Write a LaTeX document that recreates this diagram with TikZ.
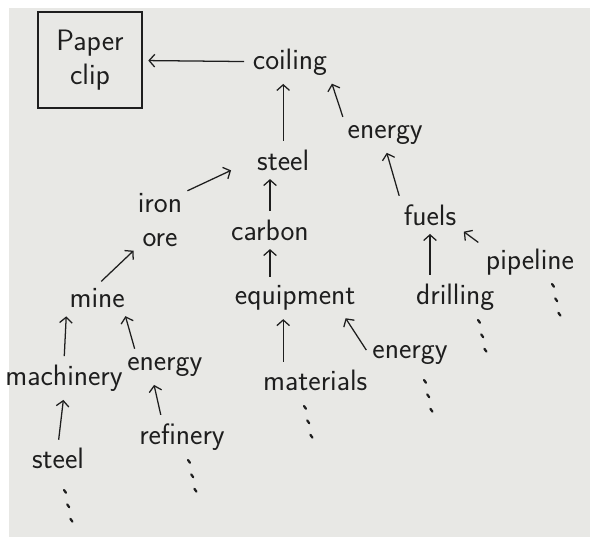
\documentclass[tikz,border=0pt]{standalone}
\usepackage{amsmath,amssymb}
\usetikzlibrary{arrows.meta,calc}

\definecolor{paper}{RGB}{232,232,229}
\definecolor{pencil}{RGB}{30,30,30}

\tikzset{
  word/.style={text=pencil, font=\sffamily\fontsize{21}{24}\selectfont, inner sep=2pt},
  arr/.style={-{Straight Barb[length=4pt,width=9pt]}, line width=0.9pt, draw=pencil, shorten >=4pt, shorten <=4pt},
  dotstroke/.style={line width=1.6pt, draw=pencil, line cap=round}
}

\begin{document}
\begin{tikzpicture}

  % paper sheet
  \useasboundingbox (0,0) rectangle (14.85,13.55);
  \fill[white] (0,0) rectangle (14.85,13.55);
  \fill[paper] (0.225,0.125) rectangle (14.75,13.35);

  % top of the chain
  \node[word, draw=pencil, line width=0.9pt, align=center, minimum width=2.6cm, minimum height=2.4cm] (clip) at (2.25,12.05) {Paper\\clip};
  \node[word] (coiling) at (7.25,12.0) {coiling};
  \node[word] (steel) at (7.08,9.55) {steel};
  \node[word] (energyA) at (9.63,10.18) {energy};

  % second row
  \node[word, align=center, inner sep=0pt] (ironore) at (4.0,8.05) {iron\\ore};
  \node[word] (carbon) at (6.75,7.8) {carbon};
  \node[word] (fuels) at (10.75,8.18) {fuels};
  \node[word] (pipeline) at (13.25,7.0) {pipeline};

  % third row
  \node[word] (mine) at (2.43,6.1) {mine};
  \node[word] (equipment) at (7.38,6.1) {equipment};
  \node[word] (drilling) at (11.38,6.13) {drilling};

  % fourth row
  \node[word] (machinery) at (1.6,4.1) {machinery};
  \node[word] (energyB) at (4.12,4.38) {energy};
  \node[word] (materials) at (7.88,4.03) {materials};
  \node[word] (energyC) at (10.25,4.68) {energy};

  % bottom row
  \node[word] (steelB) at (1.45,2.08) {steel};
  \node[word] (refinery) at (4.55,2.63) {refinery};

  % and so on
  \foreach \x/\y in {1.6/1.3, 4.7/2.05, 7.6/3.4, 10.6/4.05, 11.95/5.55, 13.8/6.45}
    \foreach \k in {0,1,2}
      \draw[dotstroke] (\x+0.08*\k,\y-0.36*\k) -- ++(0.05,-0.07);

  % arrows
  \draw[arr] (coiling) -- (clip);
  \draw[arr] (steel) -- (steel |- coiling.south);
  \draw[arr] (energyA.north west) -- (coiling.south east);
  \draw[arr] (ironore.north east) -- ($(steel.west)+(-0.45,-0.2)$);
  \draw[arr] (carbon.north) -- (carbon.north |- steel.south);
  \draw[arr] (fuels.north west) -- (energyA.south);
  \draw[arr] (pipeline.north west) -- (fuels.south east);
  \draw[arr] (drilling.north -| fuels) -- (fuels);
  \draw[arr] (equipment.north -| carbon) -- (carbon);
  \draw[arr] (mine.north) -- (ironore.south west);
  \draw[arr] (machinery.north) -- (mine.south west);
  \draw[arr] ($(energyB.north west)+(0.3,0)$) -- ($(mine.south east)+(-0.1,0)$);
  \draw[arr] (steelB.north) -- (machinery.south);
  \draw[arr] ($(refinery.north)+(-0.5,0)$) -- ($(energyB.south)+(-0.3,0)$);
  \draw[arr] ($(materials.north)+(-0.8,0)$) -- ($(equipment.south)+(-0.3,0)$);
  \draw[arr] (energyC.west) -- ($(equipment.south east)+(-0.4,0)$);

\end{tikzpicture}
\end{document}
